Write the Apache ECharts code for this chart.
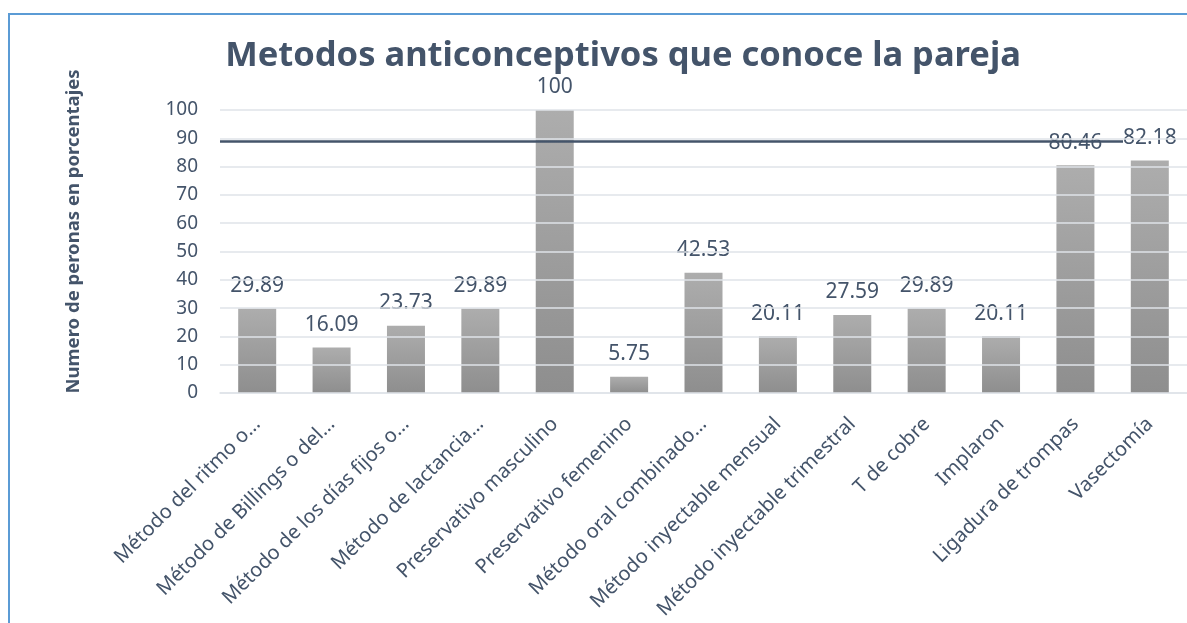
<!DOCTYPE html>
<html>
<head>
<meta charset="utf-8">
<script src="https://cdn.jsdelivr.net/npm/echarts@6/dist/echarts.min.js"></script>
<style>
  html, body { margin: 0; padding: 0; background: #fff; }
  #frame { position: absolute; left: 8px; top: 13px; width: 1200px; height: 620px;
           border-left: 2px solid #5b9bd5; border-top: 2px solid #5b9bd5; }
  #chart { position: absolute; left: 0; top: 0; width: 1187px; height: 623px; }
</style>
</head>
<body>
<div id="frame"></div>
<div id="chart"></div>
<script>
// categories and values
const categories = [
  'Método del ritmo o…',
  'Método de Billings o del…',
  'Método de los días fijos o…',
  'Método de lactancia…',
  'Preservativo masculino',
  'Preservativo femenino',
  'Método oral combinado…',
  'Método inyectable mensual',
  'Método inyectable trimestral',
  'T de cobre',
  'Implaron',
  'Ligadura de trompas',
  'Vasectomía'
]
const values = [29.89, 16.09, 23.73, 29.89, 100, 5.75, 42.53, 20.11, 27.59, 29.89, 20.11, 80.46, 82.18]
// stray horizontal line in the original
const refLineValue = 88.8

const textColor = '#44546a'
const font = '"Noto Sans", sans-serif'

const chart = echarts.init(document.getElementById('chart'))

const option = {
  backgroundColor: 'transparent',
  title: {
    text: 'Metodos anticonceptivos que conoce la pareja',
    left: 618,
    textAlign: 'center',
    top: 34,
    textStyle: { color: textColor, fontSize: 34.5, fontWeight: 'bold', fontFamily: font }
  },
  grid: { left: 220, right: 0, top: 110, bottom: 230 },
  xAxis: {
    type: 'category',
    data: categories,
    axisTick: { show: false },
    axisLine: { lineStyle: { color: '#dfe3e8', width: 1.5 } },
    axisLabel: {
      rotate: 45,
      interval: 0,
      margin: 28,
      color: textColor,
      fontSize: 20,
      fontFamily: font
    }
  },
  yAxis: {
    type: 'value',
    min: 0,
    max: 100,
    interval: 10,
    z: 3,
    name: 'Numero de peronas en porcentajes',
    nameLocation: 'middle',
    nameRotate: 90,
    nameGap: 137,
    nameTextStyle: {
      color: textColor, fontSize: 18.5, fontWeight: 'bold', fontFamily: font,
      padding: [0, 0, 0, 40]
    },
    axisLabel: { color: textColor, fontSize: 19, fontFamily: font, margin: 22 },
    splitLine: { lineStyle: { color: '#dfe3e8', width: 1.5 } }
  },
  series: [
    {
      type: 'bar',
      data: values,
      barWidth: 38,
      itemStyle: {
        color: new echarts.graphic.LinearGradient(0, 0, 0, 1, [
          { offset: 0, color: '#adadad' },
          { offset: 1, color: '#8e8e8e' }
        ])
      },
      label: {
        show: true,
        position: 'top',
        distance: 12,
        color: textColor,
        fontSize: 21,
        fontFamily: font
      },
      markLine: {
        silent: true,
        symbol: 'none',
        label: { show: false },
        lineStyle: { color: '#44546a', width: 2.5, type: 'solid' },
        data: [[
          { xAxis: 0, yAxis: refLineValue, x: 220 },
          { xAxis: 12, yAxis: refLineValue, x: 1123 }
        ]]
      }
    }
  ]
}

chart.setOption(option)
</script>
</body>
</html>
